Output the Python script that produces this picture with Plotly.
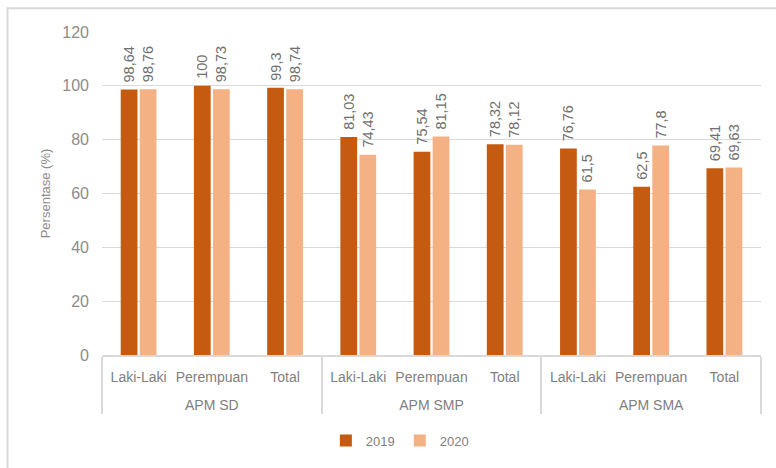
import plotly.graph_objects as go

groups = ["APM SD", "APM SMP", "APM SMA"]
categories = ["Laki-Laki", "Perempuan", "Total"]
series_names = ["2019", "2020"]
values_2019 = [98.64, 100, 99.3, 81.03, 75.54, 78.32, 76.76, 62.5, 69.41]
values_2020 = [98.76, 98.73, 98.74, 74.43, 81.15, 78.12, 61.5, 77.8, 69.63]
colors = ["#C55A11", "#F4B183"]
y_ticks = [0, 20, 40, 60, 80, 100, 120]

x_groups = [g for g in groups for _ in categories]
x_cats = [c + "<br> " for _ in groups for c in categories]


def fmt(v):
    s = ("%g" % v)
    return " " + s.replace(".", ",")


FONT = "Liberation Sans"
fig = go.Figure()
for name, vals, col in zip(series_names, [values_2019, values_2020], colors):
    fig.add_trace(go.Bar(
        x=[x_groups, x_cats], y=vals, name=name,
        marker=dict(color=col, line=dict(width=0)),
        text=[fmt(v) for v in vals], textposition="outside", textangle=-90,
        constraintext="none", cliponaxis=False,
        textfont=dict(family=FONT, size=14.5, color="#707070"),
    ))

fig.update_layout(
    width=776, height=468,
    margin=dict(l=102, r=15, t=32, b=111),
    paper_bgcolor="white", plot_bgcolor="white",
    barmode="group", bargap=0.48, bargroupgap=0.12,
    font=dict(family=FONT, color="#808080"),
    legend=dict(orientation="h", x=0.452, xanchor="center", y=-0.265, yanchor="middle",
                font=dict(size=13, color="#808080"), itemwidth=30, traceorder="normal",
                tracegroupgap=0, itemsizing="constant"),
    showlegend=True,
)
fig.update_yaxes(range=[0, 120], tickvals=y_ticks, showgrid=True, gridcolor="#d9d9d9",
                 gridwidth=1, zeroline=False, showline=False,
                 tickfont=dict(size=16, color="#8c8c8c"), ticks="", ticklen=0,
                 ticklabelstandoff=12,
                 title=dict(text="Persentase (%)", font=dict(size=13, color="#8c8c8c"), standoff=8))
fig.update_xaxes(type="multicategory", showline=True, linecolor="#d9d9d9", linewidth=2,
                 showdividers=True, dividercolor="#d9d9d9", dividerwidth=2,
                 tickangle=0, ticklabelstandoff=8,
                 tickfont=dict(size=14, color="#808080"), ticks="")

# outer chart border (only top/left visible in frame)
fig.add_shape(type="rect", xref="paper", yref="paper",
              x0=(7.5 - 102) / 659, x1=1.2, y0=-0.6, y1=1 + (32 - 8) / 325,
              line=dict(color="#d9d9d9", width=2), fillcolor="rgba(0,0,0,0)", layer="below")

fig.write_html("out.html")
